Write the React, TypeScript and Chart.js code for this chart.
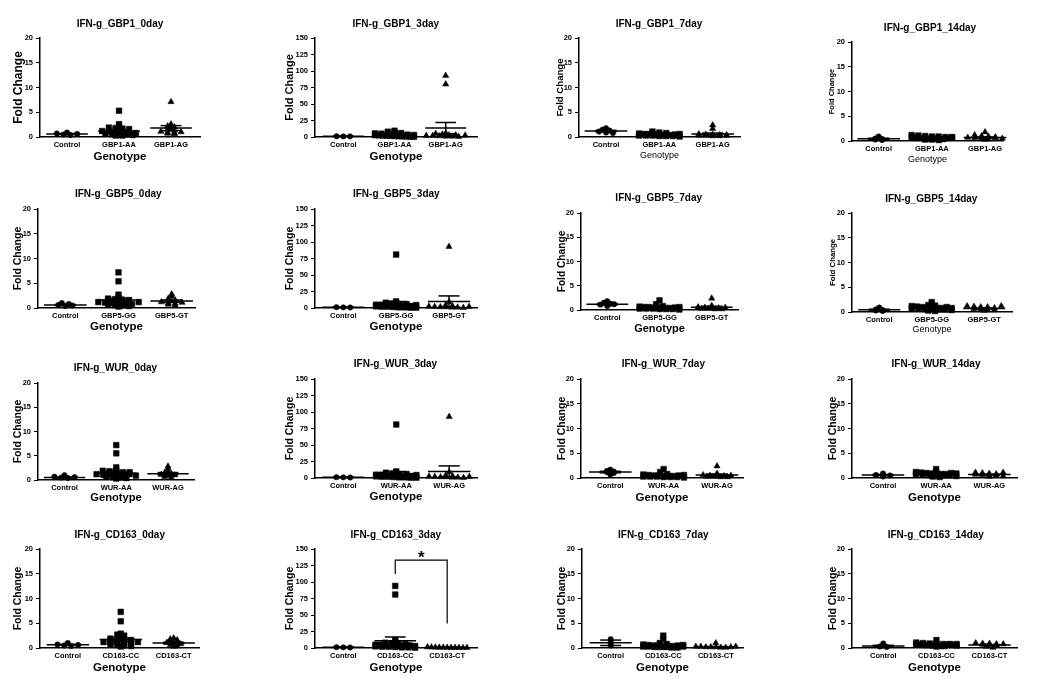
import React, { useEffect, useRef } from "react";
import { Chart, registerables } from "chart.js";
Chart.register(...registerables);

const FONT = '"Liberation Sans", Arial, Helvetica, sans-serif';

// ---------- labels / ticks ----------
const GBP1_LABELS = ["Control", "GBP1-AA", "GBP1-AG"];
const GBP5_LABELS = ["Control", "GBP5-GG", "GBP5-GT"];
const WUR_LABELS = ["Control", "WUR-AA", "WUR-AG"];
const CD163_LABELS = ["Control", "CD163-CC", "CD163-CT"];
const Y_MAX_SMALL = 20;
const Y_STEP_SMALL = 5;
const Y_MAX_LARGE = 150;
const Y_STEP_LARGE = 25;

// ---------- GBP1 ----------
const GBP1_0_CTRL = [0.9, 0.7, 0.5, 0.4, 0.6];
const GBP1_0_G1 = [5.3, 2.6, 2.0, 1.9, 1.8, 1.7, 1.6, 1.5, 1.3, 1.2, 1.1, 1.0, 0.9, 0.8, 0.8, 0.7, 0.6, 0.5, 0.5, 0.4, 0.3, 0.3];
const GBP1_0_G2 = [7.1, 2.6, 2.2, 2.0, 1.7, 1.5, 1.3, 1.1, 0.9, 0.8, 0.7, 0.6, 1.0];
const GBP1_0_MEAN = [0.6, 1.15, 1.8];
const GBP1_0_SEM = [0.1, 0.24, 0.5];

const GBP1_3_CTRL = [1.2, 0.9, 1.0];
const GBP1_3_G1 = [9.5, 8.0, 6.5, 6.0, 5.5, 5.0, 4.5, 4.0, 3.8, 3.5, 3.0, 2.8, 2.5, 2.2, 2.0, 1.8, 1.5, 1.2, 1.0, 0.8, 0.5, 0.3];
const GBP1_3_G2 = [93, 80, 6, 5, 4, 3, 3, 2, 2, 1.5, 1, 1, 0.5, 2.5];
const GBP1_3_MEAN = [1.0, 3.5, 13.5];
const GBP1_3_SEM = [0.1, 0.5, 8.5];

const GBP1_7_CTRL = [1.8, 1.5, 1.3, 1.1, 0.9, 0.8];
const GBP1_7_G1 = [1.1, 0.9, 0.8, 0.7, 0.6, 0.6, 0.5, 0.5, 0.4, 0.4, 0.4, 0.3, 0.3, 0.3, 0.2, 0.2, 0.2, 0.1, 0.5, 0.6];
const GBP1_7_G2 = [2.4, 1.7, 0.6, 0.5, 0.5, 0.4, 0.3, 0.3, 0.2, 0.2, 0.4, 0.3];
const GBP1_7_MEAN = [1.2, 0.5, 0.6];
const GBP1_7_SEM = [0.15, 0.06, 0.2];

const GBP1_14_CTRL = [0.9, 0.5, 0.4, 0.3, 0.2];
const GBP1_14_G1 = [1.2, 1.1, 1.0, 0.9, 0.9, 0.8, 0.8, 0.7, 0.7, 0.6, 0.6, 0.5, 0.5, 0.4, 0.4, 0.3, 0.3, 0.2, 0.6, 0.7];
const GBP1_14_G2 = [1.8, 1.2, 1.0, 0.9, 0.8, 0.7, 0.6, 0.5, 0.4, 0.3, 0.6, 0.5];
const GBP1_14_MEAN = [0.45, 0.65, 0.7];
const GBP1_14_SEM = [0.12, 0.06, 0.12];

// ---------- GBP5 ----------
const GBP5_0_CTRL = [1.0, 0.8, 0.6, 0.4, 0.5];
const GBP5_0_G1 = [7.2, 5.4, 2.7, 2.0, 1.9, 1.8, 1.7, 1.6, 1.5, 1.4, 1.3, 1.2, 1.1, 1.0, 0.9, 0.8, 0.8, 0.7, 0.6, 0.5, 0.4, 0.3, 1.5, 1.2];
const GBP5_0_G2 = [2.8, 2.4, 1.9, 1.6, 1.4, 1.2, 1.0, 0.9, 0.7, 0.5, 1.1];
const GBP5_0_MEAN = [0.6, 1.6, 1.4];
const GBP5_0_SEM = [0.1, 0.33, 0.22];

const GBP5_3_CTRL = [1.3, 1.0, 0.8];
const GBP5_3_G1 = [81, 10, 8, 7, 6, 5, 5, 4, 4, 3.5, 3, 3, 2.5, 2, 2, 1.5, 1, 1, 0.5, 0.5, 6, 4.5];
const GBP5_3_G2 = [93, 9, 4, 3, 2.5, 2, 1.5, 1.5, 1, 1, 0.5, 2];
const GBP5_3_MEAN = [1.0, 6.0, 10.0];
const GBP5_3_SEM = [0.1, 3.7, 8.3];

const GBP5_7_CTRL = [1.8, 1.5, 1.3, 1.1, 0.8, 1.2];
const GBP5_7_G1 = [2.0, 1.2, 0.8, 0.7, 0.6, 0.6, 0.5, 0.5, 0.4, 0.4, 0.3, 0.3, 0.3, 0.2, 0.2, 0.2, 0.1, 0.4, 0.5, 0.6];
const GBP5_7_G2 = [2.4, 0.9, 0.6, 0.5, 0.4, 0.4, 0.3, 0.3, 0.2, 0.2, 0.5];
const GBP5_7_MEAN = [1.2, 0.5, 0.55];
const GBP5_7_SEM = [0.15, 0.1, 0.2];

const GBP5_14_CTRL = [0.9, 0.5, 0.3, 0.2, 0.4];
const GBP5_14_G1 = [2.0, 1.4, 1.3, 1.2, 1.1, 1.0, 0.9, 0.9, 0.8, 0.8, 0.7, 0.7, 0.6, 0.6, 0.5, 0.5, 0.4, 0.3, 0.2, 1.0, 0.8];
const GBP5_14_G2 = [1.2, 1.1, 1.0, 1.0, 0.8, 0.6, 0.5, 0.4, 0.4, 0.3, 1.2];
const GBP5_14_MEAN = [0.45, 0.8, 0.7];
const GBP5_14_SEM = [0.12, 0.09, 0.1];

// ---------- WUR ----------
const WUR_0_CTRL = [1.0, 0.7, 0.5, 0.4, 0.6];
const WUR_0_G1 = [7.2, 5.5, 2.6, 2.0, 1.9, 1.8, 1.7, 1.6, 1.5, 1.4, 1.3, 1.2, 1.1, 1.0, 0.9, 0.8, 0.7, 0.6, 0.5, 0.4, 0.3, 1.6, 1.2, 0.9];
const WUR_0_G2 = [2.8, 2.4, 1.8, 1.5, 1.3, 1.1, 0.9, 0.7, 0.5, 1.0];
const WUR_0_MEAN = [0.5, 1.4, 1.3];
const WUR_0_SEM = [0.1, 0.33, 0.23];

const WUR_3_CTRL = [1.3, 1.0, 0.8];
const WUR_3_G1 = [81, 10, 8, 7, 6, 5, 5, 4, 4, 3.5, 3, 3, 2.5, 2, 2, 1.5, 1, 1, 0.5, 0.5, 6, 4.5];
const WUR_3_G2 = [93, 9, 4, 3, 2.5, 2, 1.5, 1.5, 1, 1, 0.5, 2];
const WUR_3_MEAN = [1.0, 6.0, 10.0];
const WUR_3_SEM = [0.1, 3.7, 8.3];

const WUR_7_CTRL = [1.7, 1.4, 1.2, 1.0, 0.7, 1.3];
const WUR_7_G1 = [1.8, 1.2, 0.8, 0.7, 0.6, 0.5, 0.5, 0.4, 0.4, 0.3, 0.3, 0.3, 0.2, 0.2, 0.2, 0.1, 0.4, 0.5, 0.6];
const WUR_7_G2 = [2.4, 0.9, 0.6, 0.5, 0.4, 0.3, 0.3, 0.2, 0.2, 0.4, 0.5];
const WUR_7_MEAN = [1.2, 0.45, 0.6];
const WUR_7_SEM = [0.15, 0.09, 0.2];

const WUR_14_CTRL = [0.9, 0.6, 0.4, 0.3, 0.5];
const WUR_14_G1 = [1.8, 1.3, 1.2, 1.1, 1.0, 0.9, 0.9, 0.8, 0.8, 0.7, 0.7, 0.6, 0.6, 0.5, 0.5, 0.4, 0.3, 0.2, 1.0, 0.9];
const WUR_14_G2 = [1.1, 1.0, 0.9, 0.8, 0.7, 0.6, 0.5, 0.5, 0.4, 0.3, 1.1];
const WUR_14_MEAN = [0.6, 0.85, 0.7];
const WUR_14_SEM = [0.1, 0.09, 0.08];

// ---------- CD163 ----------
const CD163_0_CTRL = [1.0, 0.7, 0.5, 0.4, 0.6];
const CD163_0_G1 = [7.3, 5.4, 2.9, 2.7, 2.5, 2.0, 1.9, 1.8, 1.7, 1.6, 1.5, 1.4, 1.3, 1.2, 1.1, 1.0, 0.9, 0.8, 0.7, 0.6, 0.5, 0.4, 0.3, 1.5, 1.2];
const CD163_0_G2 = [2.0, 1.8, 1.6, 1.3, 1.1, 1.0, 0.8, 0.6, 0.4, 0.3, 1.4];
const CD163_0_MEAN = [0.65, 1.7, 1.0];
const CD163_0_SEM = [0.1, 0.33, 0.17];

const CD163_3_CTRL = [1.3, 1.0, 0.8];
const CD163_3_G1 = [94, 81, 12, 10, 8, 7, 6, 5, 5, 4, 4, 3, 3, 2.5, 2, 2, 1.5, 1, 1, 0.5, 6, 4, 3];
const CD163_3_G2 = [1.5, 1.2, 1.0, 0.9, 0.8, 0.7, 0.6, 0.5, 0.5, 0.4, 0.6];
const CD163_3_MEAN = [1.0, 11.0, 0.8];
const CD163_3_SEM = [0.1, 5.7, 0.1];
const CD163_3_BRACKET_X = [2, 2, 3, 3];
const CD163_3_BRACKET_Y = [112, 133, 133, 37];
const CD163_3_STAR = { x: 2.5, y: 129, text: "*" };

const CD163_7_CTRL = [1.8, 1.4, 0.8, 0.5];
const CD163_7_G1 = [2.5, 1.8, 1.0, 0.8, 0.7, 0.6, 0.5, 0.5, 0.4, 0.4, 0.3, 0.3, 0.2, 0.2, 0.2, 0.1, 0.1, 0.3, 0.4, 0.5, 0.6];
const CD163_7_G2 = [1.0, 0.3, 0.3, 0.2, 0.2, 0.2, 0.1, 0.1, 0.2, 0.3];
const CD163_7_MEAN = [1.05, 0.45, 0.2];
const CD163_7_SEM = [0.55, 0.13, 0.08];

const CD163_14_CTRL = [0.9, 0.5, 0.3, 0.2];
const CD163_14_G1 = [1.6, 1.1, 1.0, 0.9, 0.9, 0.8, 0.8, 0.7, 0.7, 0.6, 0.6, 0.5, 0.5, 0.4, 0.4, 0.3, 0.8, 0.7, 0.6, 0.5];
const CD163_14_G2 = [1.0, 0.9, 0.9, 0.8, 0.7, 0.6, 0.5, 0.3, 0.1, 0.8];
const CD163_14_MEAN = [0.4, 0.7, 0.6];
const CD163_14_SEM = [0.15, 0.07, 0.09];

// ---------- layout (pixel geometry per panel, styling only) ----------
type Geo = {
  axL: number; axT: number; axB: number; axR: number; t1: number; t3: number;
  titleX: number; titleY: number; yTitleX: number; yFont: number;
  genoY: number; genoFont: number; genoBold: boolean;
};
type Panel = {
  title: string; labels: string[]; yMax: number; yStep: number;
  ctrl: number[]; g1: number[]; g2: number[]; mean: number[]; sem: number[];
  geo: Geo;
  bracket?: { x: number[]; y: number[]; star: { x: number; y: number; text: string } };
};

const G = (axL, axT, axB, axR, t1, t3, titleX, titleY, yTitleX, yFont, genoY, genoFont, genoBold = true): Geo =>
  ({ axL, axT, axB, axR, t1, t3, titleX, titleY, yTitleX, yFont, genoY, genoFont, genoBold });

const PANELS: Panel[] = [
  { title: "IFN-g_GBP1_0day", labels: GBP1_LABELS, yMax: Y_MAX_SMALL, yStep: Y_STEP_SMALL, ctrl: GBP1_0_CTRL, g1: GBP1_0_G1, g2: GBP1_0_G2, mean: GBP1_0_MEAN, sem: GBP1_0_SEM,
    geo: G(40, 38.3, 136.7, 200, 67, 171, 120, 24, 18.3, 12, 156.7, 11.5) },
  { title: "IFN-g_GBP1_3day", labels: GBP1_LABELS, yMax: Y_MAX_LARGE, yStep: Y_STEP_LARGE, ctrl: GBP1_3_CTRL, g1: GBP1_3_G1, g2: GBP1_3_G2, mean: GBP1_3_MEAN, sem: GBP1_3_SEM,
    geo: G(315, 38.3, 136.7, 476.7, 343.3, 445.7, 395.8, 24, 290, 11, 157, 11.5) },
  { title: "IFN-g_GBP1_7day", labels: GBP1_LABELS, yMax: Y_MAX_SMALL, yStep: Y_STEP_SMALL, ctrl: GBP1_7_CTRL, g1: GBP1_7_G1, g2: GBP1_7_G2, mean: GBP1_7_MEAN, sem: GBP1_7_SEM,
    geo: G(579.3, 38.3, 136.7, 740, 606, 712.7, 659, 24, 560, 9.6, 155.7, 9, false) },
  { title: "IFN-g_GBP1_14day", labels: GBP1_LABELS, yMax: Y_MAX_SMALL, yStep: Y_STEP_SMALL, ctrl: GBP1_14_CTRL, g1: GBP1_14_G1, g2: GBP1_14_G2, mean: GBP1_14_MEAN, sem: GBP1_14_SEM,
    geo: G(851.7, 42.3, 141, 1002.7, 878.7, 985, 930, 28.3, 832.3, 7.5, 159.3, 9, false) },

  { title: "IFN-g_GBP5_0day", labels: GBP5_LABELS, yMax: Y_MAX_SMALL, yStep: Y_STEP_SMALL, ctrl: GBP5_0_CTRL, g1: GBP5_0_G1, g2: GBP5_0_G2, mean: GBP5_0_MEAN, sem: GBP5_0_SEM,
    geo: G(38.3, 209.3, 308.3, 195, 65.3, 171.7, 118.3, 194, 18.3, 10.5, 327.3, 11.5) },
  { title: "IFN-g_GBP5_3day", labels: GBP5_LABELS, yMax: Y_MAX_LARGE, yStep: Y_STEP_LARGE, ctrl: GBP5_3_CTRL, g1: GBP5_3_G1, g2: GBP5_3_G2, mean: GBP5_3_MEAN, sem: GBP5_3_SEM,
    geo: G(315, 209.3, 308.3, 476.7, 343.3, 449, 396.3, 194, 290, 10.5, 327, 11.5) },
  { title: "IFN-g_GBP5_7day", labels: GBP5_LABELS, yMax: Y_MAX_SMALL, yStep: Y_STEP_SMALL, ctrl: GBP5_7_CTRL, g1: GBP5_7_G1, g2: GBP5_7_G2, mean: GBP5_7_MEAN, sem: GBP5_7_SEM,
    geo: G(581, 212.7, 310, 738.3, 607.3, 711.7, 658.7, 198.3, 561.7, 10.2, 329, 11) },
  { title: "IFN-g_GBP5_14day", labels: GBP5_LABELS, yMax: Y_MAX_SMALL, yStep: Y_STEP_SMALL, ctrl: GBP5_14_CTRL, g1: GBP5_14_G1, g2: GBP5_14_G2, mean: GBP5_14_MEAN, sem: GBP5_14_SEM,
    geo: G(851.7, 212.7, 312.3, 1011.7, 879.2, 984.2, 931.3, 199, 833.3, 7.8, 330, 9, false) },

  { title: "IFN-g_WUR_0day", labels: WUR_LABELS, yMax: Y_MAX_SMALL, yStep: Y_STEP_SMALL, ctrl: WUR_0_CTRL, g1: WUR_0_G1, g2: WUR_0_G2, mean: WUR_0_MEAN, sem: WUR_0_SEM,
    geo: G(38.3, 383.3, 480, 194.3, 64.5, 168, 115.5, 368.3, 18.3, 10.5, 498.3, 11.2) },
  { title: "IFN-g_WUR_3day", labels: WUR_LABELS, yMax: Y_MAX_LARGE, yStep: Y_STEP_LARGE, ctrl: WUR_3_CTRL, g1: WUR_3_G1, g2: WUR_3_G2, mean: WUR_3_MEAN, sem: WUR_3_SEM,
    geo: G(315, 379.3, 478.3, 476.7, 343.3, 449.2, 395.5, 364.3, 290, 10.5, 497.3, 11.5) },
  { title: "IFN-g_WUR_7day", labels: WUR_LABELS, yMax: Y_MAX_SMALL, yStep: Y_STEP_SMALL, ctrl: WUR_7_CTRL, g1: WUR_7_G1, g2: WUR_7_G2, mean: WUR_7_MEAN, sem: WUR_7_SEM,
    geo: G(581, 379.3, 478.3, 743.3, 610.3, 717, 663.3, 364, 561.7, 10.5, 497.7, 11.5) },
  { title: "IFN-g_WUR_14day", labels: WUR_LABELS, yMax: Y_MAX_SMALL, yStep: Y_STEP_SMALL, ctrl: WUR_14_CTRL, g1: WUR_14_G1, g2: WUR_14_G2, mean: WUR_14_MEAN, sem: WUR_14_SEM,
    geo: G(851.7, 379.3, 478.3, 1016.7, 883, 989.3, 936, 364, 833.3, 10.5, 497.7, 11.5) },

  { title: "IFN-g_CD163_0day", labels: CD163_LABELS, yMax: Y_MAX_SMALL, yStep: Y_STEP_SMALL, ctrl: CD163_0_CTRL, g1: CD163_0_G1, g2: CD163_0_G2, mean: CD163_0_MEAN, sem: CD163_0_SEM,
    geo: G(40, 549.3, 648.3, 199.3, 67.8, 173.7, 119.7, 535, 18.3, 10.5, 667.7, 11.5) },
  { title: "IFN-g_CD163_3day", labels: CD163_LABELS, yMax: Y_MAX_LARGE, yStep: Y_STEP_LARGE, ctrl: CD163_3_CTRL, g1: CD163_3_G1, g2: CD163_3_G2, mean: CD163_3_MEAN, sem: CD163_3_SEM,
    geo: G(315, 549.3, 648.3, 477.3, 343.3, 447.2, 395.8, 535, 290, 10.5, 668.3, 11.5),
    bracket: { x: CD163_3_BRACKET_X, y: CD163_3_BRACKET_Y, star: CD163_3_STAR } },
  { title: "IFN-g_CD163_7day", labels: CD163_LABELS, yMax: Y_MAX_SMALL, yStep: Y_STEP_SMALL, ctrl: CD163_7_CTRL, g1: CD163_7_G1, g2: CD163_7_G2, mean: CD163_7_MEAN, sem: CD163_7_SEM,
    geo: G(581.7, 549.3, 648.3, 743.3, 610.7, 715.8, 663.3, 535, 561.7, 10.5, 668.3, 11.5) },
  { title: "IFN-g_CD163_14day", labels: CD163_LABELS, yMax: Y_MAX_SMALL, yStep: Y_STEP_SMALL, ctrl: CD163_14_CTRL, g1: CD163_14_G1, g2: CD163_14_G2, mean: CD163_14_MEAN, sem: CD163_14_SEM,
    geo: G(851.7, 549.3, 648.3, 1016.7, 883.3, 989.5, 935.8, 535, 833.3, 10.5, 668.3, 11.5) },
];

// ---------- helpers ----------
function spread(values: number[], center: number, binSize: number, step: number, maxHalf: number) {
  const bins = new Map<number, number[]>();
  values.forEach((v, i) => {
    const b = Math.floor(v / binSize);
    if (!bins.has(b)) bins.set(b, []);
    bins.get(b)!.push(i);
  });
  const pts: { x: number; y: number }[] = new Array(values.length);
  bins.forEach((idxs) => {
    const m = idxs.length;
    const st = m > 1 ? Math.min(step, (2 * maxHalf) / (m - 1)) : 0;
    idxs.forEach((idx, j) => {
      pts[idx] = { x: center + (j - (m - 1) / 2) * st, y: values[idx] };
    });
  });
  return pts;
}

function layoutOf(g: Geo) {
  const W = 40, R = 10;
  const axL = Math.round(g.axL), axR = Math.round(g.axR), axT = Math.round(g.axT), axB = Math.round(g.axB);
  const left = axL - W;
  const top = Math.round(g.titleY) - 12;
  const width = W + (axR - axL) + R;
  const bottomEdge = Math.round(g.genoY) + 12;
  const height = bottomEdge - top;
  const padTop = axT - top;
  const xH = bottomEdge - axB;
  const s = (g.t3 - g.t1) / 2;
  const xMin = 1 - (g.t1 - axL) / s;
  const xMax = 3 + (axR - g.t3) / s;
  const yLh = g.yFont * 1.2;
  const yPad = g.yTitleX - left - yLh / 2;
  const gLh = g.genoFont * 1.2;
  const gPad = bottomEdge - g.genoY - gLh / 2;
  return { W, R, left, top, width, height, padTop, xH, xMin, xMax, yPad, gPad };
}

const titlePlugin = {
  id: "ptitle",
  afterDraw(chart: any, _a: any, opts: any) {
    if (!opts || !opts.text) return;
    const ctx = chart.ctx;
    ctx.save();
    ctx.fillStyle = "#000";
    ctx.font = `bold 10px ${FONT}`;
    ctx.textAlign = "center";
    ctx.textBaseline = "middle";
    ctx.fillText(opts.text, opts.x, opts.y);
    ctx.restore();
  },
};

const starPlugin = {
  id: "sigstar",
  afterDatasetsDraw(chart: any, _a: any, opts: any) {
    if (!opts || !opts.text) return;
    const { ctx, scales } = chart;
    ctx.save();
    ctx.fillStyle = "#000";
    ctx.font = `bold 17px ${FONT}`;
    ctx.textAlign = "center";
    ctx.textBaseline = "alphabetic";
    ctx.fillText(opts.text, scales.x.getPixelForValue(opts.x), scales.y.getPixelForValue(opts.y));
    ctx.restore();
  },
};

function lineDs(data: { x: number; y: number }[], width = 1.5) {
  return {
    type: "scatter" as const, data, showLine: true, pointRadius: 0, borderColor: "#000",
    backgroundColor: "#000", borderWidth: width, clip: false as const, tension: 0,
  };
}

function buildConfig(p: Panel) {
  const g = p.geo;
  const L = layoutOf(g);
  const binSize = p.yMax / 50;
  const styles = [
    { style: "circle", r: 2.7, vals: p.ctrl, step: 0.13, half: 0.25 },
    { style: "rect", r: 4, vals: p.g1, step: 0.13, half: 0.38 },
    { style: "triangle", r: 3.6, vals: p.g2, step: 0.13, half: 0.38 },
  ];
  const datasets: any[] = [];
  styles.forEach((s, k) => {
    datasets.push({
      type: "scatter", data: spread(s.vals, k + 1, binSize, s.step, s.half),
      pointStyle: s.style, pointRadius: s.r, pointBackgroundColor: "#000", pointBorderColor: "#000",
      pointBorderWidth: 0.5, backgroundColor: "#000", borderColor: "#000", showLine: false, clip: false,
    });
  });
  p.mean.forEach((m, k) => {
    const c = k + 1, sd = p.sem[k];
    datasets.push(lineDs([{ x: c - 0.4, y: m }, { x: c + 0.4, y: m }]));
    datasets.push(lineDs([{ x: c - 0.2, y: m + sd }, { x: c + 0.2, y: m + sd }]));
    datasets.push(lineDs([{ x: c - 0.2, y: Math.max(m - sd, 0) }, { x: c + 0.2, y: Math.max(m - sd, 0) }]));
    datasets.push(lineDs([{ x: c, y: Math.max(m - sd, 0) }, { x: c, y: m + sd }]));
  });
  if (p.bracket) {
    datasets.push(lineDs(p.bracket.x.map((x, i) => ({ x, y: p.bracket!.y[i] })), 1.2));
  }
  const tickFont = { family: FONT, size: 7.5, weight: "bold" as const };
  return {
    type: "scatter" as const,
    data: { datasets },
    plugins: [titlePlugin, starPlugin],
    options: {
      animation: false as const,
      responsive: false,
      maintainAspectRatio: false,
      events: [] as any[],
      layout: { padding: { top: L.padTop, right: L.R, left: 0, bottom: 0 } },
      plugins: {
        legend: { display: false },
        tooltip: { enabled: false },
        title: { display: false },
        ptitle: { text: p.title, x: g.titleX - L.left, y: g.titleY - L.top },
        sigstar: p.bracket ? p.bracket.star : {},
      },
      scales: {
        x: {
          type: "linear" as const,
          min: L.xMin,
          max: L.xMax,
          afterBuildTicks: (sc: any) => { sc.ticks = [{ value: 1 }, { value: 2 }, { value: 3 }]; },
          afterFit: (sc: any) => { sc.height = L.xH; },
          grid: { display: false, drawTicks: false },
          border: { display: true, color: "#000", width: 1.5 },
          ticks: {
            autoSkip: false, maxRotation: 0, minRotation: 0, padding: 3.5, color: "#000", font: tickFont,
            callback: (v: any) => p.labels[Math.round(Number(v)) - 1] ?? "",
          },
          title: {
            display: true, text: "Genotype", color: "#000",
            font: { family: FONT, size: g.genoFont, weight: g.genoBold ? ("bold" as const) : ("normal" as const) },
            padding: { top: 0, bottom: L.gPad },
          },
        },
        y: {
          type: "linear" as const,
          min: 0,
          max: p.yMax,
          afterFit: (sc: any) => { sc.width = L.W; },
          grid: { display: true, drawOnChartArea: false, drawTicks: true, tickLength: 4, color: "#000", lineWidth: 1 },
          border: { display: true, color: "#000", width: 1.5 },
          ticks: { stepSize: p.yStep, padding: 3, color: "#000", font: tickFont },
          title: {
            display: true, text: "Fold Change", color: "#000",
            font: { family: FONT, size: g.yFont, weight: "bold" as const },
            padding: { top: L.yPad, bottom: 0 },
          },
        },
      },
    },
  };
}

function PanelChart({ p }: { p: Panel }) {
  const ref = useRef<HTMLCanvasElement>(null);
  const L = layoutOf(p.geo);
  useEffect(() => {
    if (!ref.current) return;
    const chart = new Chart(ref.current, buildConfig(p) as any);
    return () => chart.destroy();
  }, []);
  return (
    <canvas
      ref={ref}
      width={L.width}
      height={L.height}
      style={{ position: "absolute", left: L.left, top: L.top, width: L.width, height: L.height }}
    />
  );
}

export default function App() {
  return (
    <div style={{ position: "absolute", left: 0, top: 0, width: 1041, height: 689, background: "#fff", overflow: "hidden" }}>
      {PANELS.map((p) => (
        <PanelChart key={p.title} p={p} />
      ))}
    </div>
  );
}
